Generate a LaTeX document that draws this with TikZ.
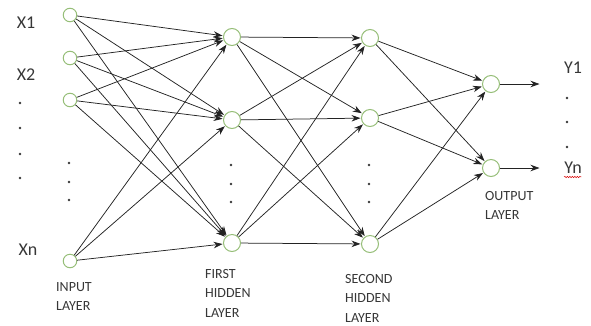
\documentclass[tikz,border=0pt]{standalone}
\usepackage{fontspec}
\setmainfont{Carlito}
\usetikzlibrary{arrows.meta,decorations.pathmorphing}
\definecolor{nodegreen}{RGB}{150,190,120}
\definecolor{linegray}{RGB}{35,35,35}
\definecolor{textgray}{RGB}{55,55,55}

\begin{document}
\begin{tikzpicture}[x=1pt, y=-1pt, >={Stealth[length=9pt,width=6.5pt]}, shorten >=0.5pt]

        \def\xin{70}                % x of the input layer
        \def\xhone{232}             % x of the first hidden layer
        \def\xhtwo{370}             % x of the second hidden layer
        \def\xout{491}              % x of the output layer
        \def\xend{540}              % end of the output arrows
        \tikzstyle{neuron}=[circle,draw=nodegreen,line width=1pt,minimum size=17pt,inner sep=0pt]
        \tikzstyle{inneuron}=[neuron,minimum size=13.5pt]
        \tikzstyle{conn}=[->,draw=linegray,line width=0.75pt]
        \tikzstyle{annot}=[align=left,anchor=north west,inner sep=0pt,text=textgray,font={\fontsize{14}{19.5}\selectfont}]
        \tikzstyle{varname}=[inner sep=0pt,text=textgray,font={\fontsize{18}{18}\selectfont}]
        \tikzstyle{dot}=[circle,fill=textgray,minimum size=2.6pt,inner sep=0pt]

        \useasboundingbox (0,0) rectangle (591,325);

        % Draw the input layer nodes
            \foreach \n/\y in {1/15,2/58,3/100,4/261}
                \node[inneuron] (Il-\n) at (\xin,\y) {};
        % Draw the first hidden layer nodes
            \foreach \n/\y in {1/37,2/120,3/243}
                \node[neuron] (Ha-\n) at (\xhone,\y) {};
        % Draw the second hidden layer nodes
            \foreach \n/\y in {1/38,2/118,3/244}
                \node[neuron] (Hb-\n) at (\xhtwo,\y) {};
        % Draw the output layer nodes
            \foreach \n/\y in {1/84,2/168}{
                \node[neuron] (Ol-\n) at (\xout,\y) {};
                \coordinate (Onl-\n) at (\xend,\y);
                \draw[conn] (Ol-\n) -- (Onl-\n);
            }

        % Connect every layer with the next one
            \foreach \source in {1,...,4}
                \foreach \dest in {1,...,3}
                    \draw[conn] (Il-\source) -- (Ha-\dest);
            \foreach \source in {1,...,3}
                \foreach \dest in {1,...,3}
                    \draw[conn] (Ha-\source) -- (Hb-\dest);
            \foreach \source in {1,...,3}
                \foreach \dest in {1,2}
                    \draw[conn] (Hb-\source) -- (Ol-\dest);

        % Dots for the missing neurons
            \foreach \y [count=\i] in {163,182,200}{
                \node[dot] (il-dot-\i) at (\xin-1,\y) {};
                \node[dot] (ha-dot-\i) at (\xhone-1,\y+2) {};
                \node[dot] (hb-dot-\i) at (\xhtwo-1,\y+2) {};
            }
            \foreach \y [count=\i] in {103,128,154,178}
                \node[dot] (x-dot-\i) at (20,\y) {};
            \foreach \y [count=\i] in {98,122,147}
                \node[dot] (y-dot-\i) at (567,\y) {};

        % Input and output names
            \node[varname] (X1) at (26,23) {X1};
            \node[varname] (X2) at (26,75) {X2};
            \node[varname] (Xn) at (28,250) {Xn};
            \node[varname] (Y1) at (573,68) {Y1};
            \node[varname] (Yn) at (573,168) {Yn};
            \draw[red!85!black,line width=0.5pt,decorate,decoration={snake,amplitude=0.7pt,segment length=2.5pt}]
                ([yshift=-3pt]Yn.south west) -- ([yshift=-3pt]Yn.south east);

        % Annotate the layers
            \node[annot] (il) at (56,282) {INPUT\\LAYER};
            \node[annot] (hal) at (205,269) {FIRST\\HIDDEN\\LAYER};
            \node[annot] (hbl) at (345,274) {SECOND\\HIDDEN\\LAYER};
            \node[annot] (ol) at (485,191) {OUTPUT\\LAYER};

\end{tikzpicture}
\end{document}
